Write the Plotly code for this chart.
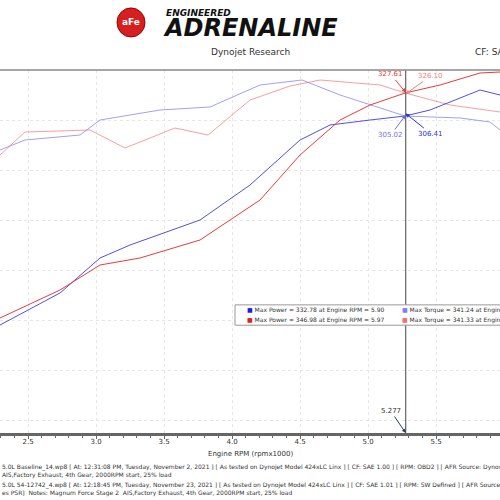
import plotly.graph_objects as go

def rpm(px): return 2.294 + px/136.0
def val(py): return 350 - (py-70)

bt_px = [0,25,80,100,160,210,260,302,340,380,405,460,490,500]
bt_py = [150,140,135,120,110,107,85,80,95,108,116,118,122,130]
rt_px = [0,25,90,125,175,208,250,290,320,380,405,450,500]
rt_py = [155,132,130,148,128,135,100,86,80,85,93,105,112]
bp_px = [0,60,100,130,200,250,300,330,370,405,430,480,500]
bp_py = [325,293,258,245,220,185,140,125,120,116,110,90,95]
rp_px = [0,60,100,140,200,260,300,340,370,405,440,480,500]
rp_py = [318,290,265,258,240,200,155,120,105,93,85,73,72]

series = [
    ("Torque base", bt_px, bt_py, "rgba(120,120,240,0.7)"),
    ("Torque afe", rt_px, rt_py, "rgba(240,120,120,0.7)"),
    ("Power base", bp_px, bp_py, "rgb(80,80,230)"),
    ("Power afe", rp_px, rp_py, "rgb(230,60,60)"),
]

fig = go.Figure()
for name, xs, ys, c in series:
    fig.add_trace(go.Scatter(x=[rpm(v) for v in xs], y=[val(v) for v in ys],
                             mode="lines", line=dict(color=c, width=1), name=name, hoverinfo="skip"))

cursor = 5.277
fig.add_vline(x=cursor, line=dict(color="#444", width=1))
ann = [
    (327.61, "327.61", "#e04040", -15, -18),
    (326.10, "326.10", "#f08080", 25, -18),
    (305.02, "305.02", "#7070e0", -15, 20),
    (306.41, "306.41", "#3030d0", 25, 20),
]
for y, t, c, ax, ay in ann:
    fig.add_annotation(x=cursor, y=y, text=t, showarrow=True, arrowhead=2, arrowsize=0.8,
                       arrowcolor=c, ax=ax, ay=ay, font=dict(size=7, color=c))
fig.add_annotation(x=cursor, y=-13, text="5.277", showarrow=True, arrowhead=2, arrowsize=0.8,
                   ax=-15, ay=-22, font=dict(size=7, color="#333"))

def ptext(x, y, t, size, color="#333", xanchor="left"):
    fig.add_annotation(xref="paper", yref="paper", x=x, y=y, xanchor=xanchor, yanchor="middle",
                       text=t, showarrow=False, font=dict(size=size, color=color))

fig.add_shape(type="rect", xref="paper", yref="paper", x0=0.47, x1=1.01, y0=0.297, y1=0.353,
              line=dict(color="#999", width=1), fillcolor="white")
leg = [("Max Power = 332.78 at Engine RPM = 5.90", "#2020e0", 0.49, 0.339),
       ("Max Power = 346.98 at Engine RPM = 5.97", "#e02020", 0.49, 0.311),
       ("Max Torque = 341.24 at Engine RPM", "#8080f0", 0.80, 0.339),
       ("Max Torque = 341.33 at Engine RPM", "#f07070", 0.80, 0.311)]
for t, c, x, y in leg:
    ptext(x, y, f"<span style='color:{c}'>■</span> {t}", 6)

fig.add_shape(type="circle", xref="paper", yref="paper", x0=0.234, x1=0.29, y0=1.091, y1=1.171,
              fillcolor="#d42020", line=dict(color="#900", width=1))
ptext(0.262, 1.131, "<b>aFe</b>", 9, "white", "center")
ptext(0.328, 1.158, "<b><i>ENGINEERED</i></b>", 9, "#111")
ptext(0.322, 1.116, "<b><i>ADRENALINE</i></b>", 24, "#111")
ptext(0.5, 1.05, "Dynojet Research", 9, "#333", "center")
ptext(0.945, 1.05, "CF: SAE", 9, "#333")
ptext(0.5, -0.058, "Engine RPM (rpmx1000)", 7, "#333", "center")
foot = [
    ("5.0L Baseline_14.wp8 [ At: 12:31:08 PM, Tuesday, November 2, 2021 ] [ As tested on Dynojet Model 424xLC Linx ] [ CF: SAE 1.00 ] [ RPM: OBD2 ] [ AFR Source: Dynoware RT W", -0.094),
    ("AIS,Factory Exhaust, 4th Gear, 2000RPM start, 25% load", -0.116),
    ("5.0L 54-12742_4.wp8 [ At: 12:18:45 PM, Tuesday, November 23, 2021 ] [ As tested on Dynojet Model 424xLC Linx ] [ CF: SAE 1.01 ] [ RPM: SW Defined ] [ AFR Source: Dynowar", -0.143),
    ("es PSR]  Notes: Magnum Force Stage 2  AIS,Factory Exhaust, 4th Gear, 2000RPM start, 25% load", -0.165),
]
for t, y in foot:
    ptext(0, y, t, 6)

fig.update_layout(
    width=500, height=500, margin=dict(l=0, r=0, t=70, b=67),
    paper_bgcolor="white", plot_bgcolor="white", showlegend=False,
    font=dict(family="DejaVu Sans"),
    xaxis=dict(range=[2.294, 5.97], tickvals=[2.5,3.0,3.5,4.0,4.5,5.0,5.5], ticktext=["2.5","3.0","3.5","4.0","4.5","5.0","5.5"],
               showgrid=True, gridcolor="#e6e6e6", griddash="dot", showline=True, linecolor="#666", linewidth=3,
               ticks="outside", ticklen=3, tickcolor="#666", tickfont=dict(size=7, color="#333"),
               ticklabelstandoff=-3,
               minor=dict(dtick=0.1, ticks="outside", ticklen=2, tickcolor="#666"), zeroline=False),
    yaxis=dict(range=[-13, 350], showticklabels=False, showgrid=True, gridcolor="#e6e6e6", griddash="dot",
               dtick=50, zeroline=False, showline=False, ticks=""),
)
fig.add_shape(type="line", xref="paper", yref="paper", x0=0, x1=1, y0=1, y1=1, line=dict(color="#888", width=1.5))
fig.write_html("out.html", config={"displayModeBar": False})
with open("out.html") as f:
    h = f.read()
h = h.replace("<body>", "<body style=\"margin:0;overflow:hidden\">", 1)
with open("out.html", "w") as f:
    f.write(h)
